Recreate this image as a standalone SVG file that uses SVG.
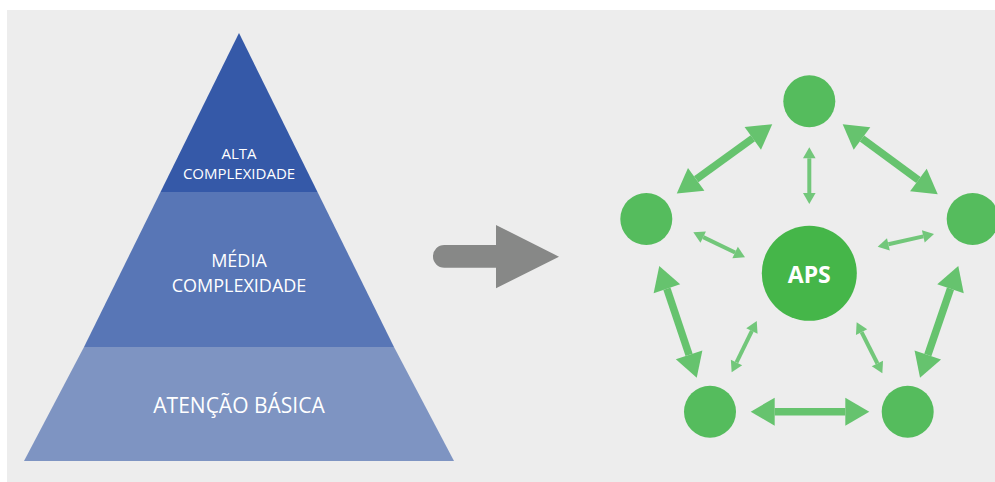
<svg xmlns="http://www.w3.org/2000/svg" width="995" height="482" viewBox="0 0 995 482">
  <style>
    .lbl { font-family: "Open Sans", "Liberation Sans", Arial, sans-serif; fill: #ffffff; text-anchor: middle; }
    .node { fill: #55bc5d; }
    .thick { stroke: #66c36e; stroke-width: 7.5; fill: none; marker-start: url(#hBig); marker-end: url(#hBig); }
    .thin { stroke: #72c77a; stroke-width: 4; fill: none; marker-start: url(#hSmall); marker-end: url(#hSmall); }
  </style>
  <defs>
    <marker id="hBig" markerUnits="userSpaceOnUse" viewBox="0 -15 25 30" refX="0" refY="0" markerWidth="25" markerHeight="30" orient="auto-start-reverse" overflow="visible">
      <path d="M0,-14 L24,0 L0,14 Z" fill="#66c36e"/>
    </marker>
    <marker id="hSmall" markerUnits="userSpaceOnUse" viewBox="0 -7 12 14" refX="0" refY="0" markerWidth="12" markerHeight="14" orient="auto-start-reverse" overflow="visible">
      <path d="M0,-6.3 L11,0 L0,6.3 Z" fill="#72c77a"/>
    </marker>
  </defs>

  <rect x="0" y="0" width="995" height="482" fill="#ffffff"/>
  <rect x="7" y="10" width="988" height="472" fill="#ededed"/>

  <g id="pyramid">
    <g id="alta">
      <polygon points="239,33 317.5,192 160.5,192" fill="#3559a8"/>
      <text class="lbl" x="239" y="159" font-size="15">ALTA</text>
      <text class="lbl" x="239" y="179" font-size="15">COMPLEXIDADE</text>
    </g>
    <g id="media">
      <polygon points="160.5,192 317.5,192 394,347 84,347" fill="#5876b6"/>
      <text class="lbl" x="239" y="267" font-size="18">MÉDIA</text>
      <text class="lbl" x="239" y="292" font-size="18">COMPLEXIDADE</text>
    </g>
    <g id="basica">
      <polygon points="84,347 394,347 454,461 24,461" fill="#7e94c2"/>
      <text class="lbl" x="239" y="413" font-size="21">ATENÇÃO BÁSICA</text>
    </g>
  </g>

  <g id="transition-arrow">
    <path d="M444.3,245 L496,245 L496,225 L559,256.7 L496,288.3 L496,267.7 L444.3,267.7 A11.35,11.35 0 0 1 444.3,245 Z" fill="#878887"/>
  </g>

  <g id="connectors">
    <line class="thick" x1="696.2" y1="179.3" x2="752.8" y2="138.3"/>
    <line class="thick" x1="862.0" y1="138.5" x2="918.4" y2="180.1"/>
    <line class="thick" x1="666.9" y1="288.8" x2="689.1" y2="354.9"/>
    <line class="thick" x1="950.5" y1="288.7" x2="927.8" y2="355.0"/>
    <line class="thick" x1="774.7" y1="411.7" x2="845.3" y2="411.7"/>
    <line class="thin" x1="809.3" y1="158.3" x2="809.3" y2="193"/>
    <line class="thin" x1="703.2" y1="237.1" x2="735.1" y2="252.5"/>
    <line class="thin" x1="888.4" y1="244.3" x2="923.3" y2="236.4"/>
    <line class="thin" x1="751.9" y1="330.9" x2="736.5" y2="362.4"/>
    <line class="thin" x1="861.6" y1="332.1" x2="877.4" y2="363.5"/>
  </g>

  <g id="node-top"><circle class="node" cx="809.3" cy="101.3" r="26"/></g>
  <g id="node-left"><circle class="node" cx="646.3" cy="219" r="26"/></g>
  <g id="node-right"><circle class="node" cx="972.7" cy="219" r="26"/></g>
  <g id="node-bottom-left"><circle class="node" cx="710" cy="411.7" r="26"/></g>
  <g id="node-bottom-right"><circle class="node" cx="907.7" cy="411.7" r="26"/></g>
  <g id="node-aps">
    <circle cx="809.3" cy="273.3" r="47.5" fill="#45b649"/>
    <text x="809.3" y="283" font-family="'Open Sans', 'Liberation Sans', Arial, sans-serif" font-size="23" font-weight="bold" fill="#ffffff" text-anchor="middle">APS</text>
  </g>
</svg>
